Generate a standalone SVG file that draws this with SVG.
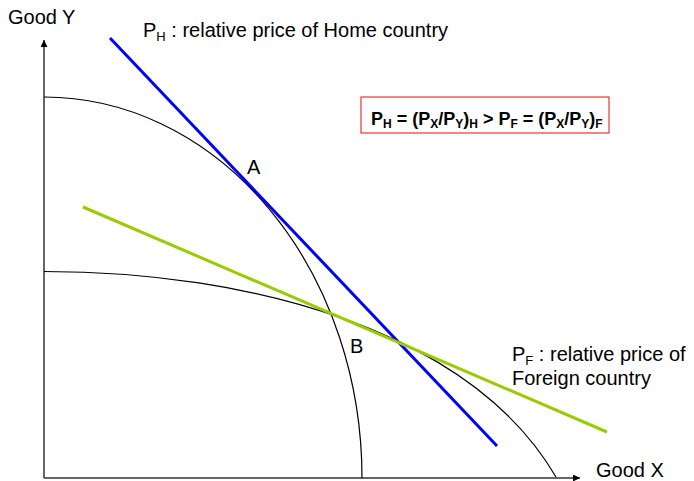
<svg xmlns="http://www.w3.org/2000/svg" width="694" height="481" viewBox="0 0 694 481">
<style>
text{font-family:"Liberation Sans",Arial,sans-serif;font-size:20px;fill:#000}
.sub{font-size:13px}
.bold{font-weight:bold;font-size:18px}
.bsub{font-size:12px}
.axis{stroke:#333;stroke-width:1.5;fill:none}
.ppf{stroke:#000;stroke-width:1.2;fill:none}
</style>
<defs>
<marker id="arr" viewBox="0 0 10 10" refX="10" refY="5" markerWidth="7" markerHeight="7" markerUnits="userSpaceOnUse" orient="auto">
<path d="M0,0 L10,5 L0,10 z" fill="#000"/>
</marker>
</defs>
<rect width="694" height="481" fill="#fff"/>
<g id="axes">
<line class="axis" x1="44" y1="478" x2="44" y2="40" marker-end="url(#arr)"/>
<line class="axis" x1="44" y1="478" x2="580" y2="478" marker-end="url(#arr)"/>
</g>
<g id="curves">
<path id="home-ppf" class="ppf" d="M44,97 A318,381 0 0 1 362,478"/>
<path id="foreign-ppf" class="ppf" d="M44,271.5 C250,271.5 470,330 556,477"/>
</g>
<g id="connectors">
<line id="ph-line" x1="110" y1="38" x2="497" y2="446" stroke="#0000ff" stroke-width="3"/>
<line id="pf-line" x1="83" y1="207" x2="607" y2="432" stroke="#99cc00" stroke-width="3"/>
</g>
<g id="labels">
<text x="8" y="24">Good Y</text>
<text x="596" y="477">Good X</text>
<text x="143" y="37">P<tspan class="sub" dy="4">H</tspan><tspan dy="-4"> : relative price of Home country</tspan></text>
<text x="512" y="361">P<tspan class="sub" dy="4">F</tspan><tspan dy="-4"> : relative price of</tspan></text>
<text x="512" y="385">Foreign country</text>
<text x="247" y="174">A</text>
<text x="350" y="353">B</text>
</g>
<g id="formula-box">
<rect x="361" y="97" width="248" height="36" fill="#fff" stroke="#ee3333" stroke-width="1.2"/>
<text class="bold" x="371" y="125">P<tspan class="bsub" dy="3">H</tspan><tspan dy="-3"> = (P</tspan><tspan class="bsub" dy="3">X</tspan><tspan dy="-3">/P</tspan><tspan class="bsub" dy="3">Y</tspan><tspan dy="-3">)</tspan><tspan class="bsub" dy="3">H</tspan><tspan dy="-3"> &gt; P</tspan><tspan class="bsub" dy="3">F</tspan><tspan dy="-3"> = (P</tspan><tspan class="bsub" dy="3">X</tspan><tspan dy="-3">/P</tspan><tspan class="bsub" dy="3">Y</tspan><tspan dy="-3">)</tspan><tspan class="bsub" dy="3">F</tspan></text>
</g>
</svg>
